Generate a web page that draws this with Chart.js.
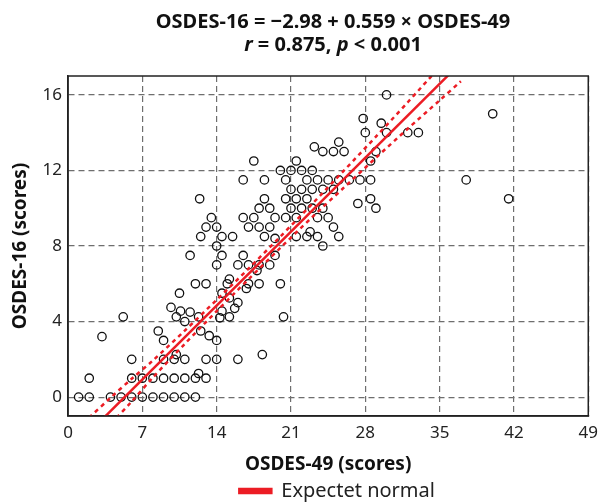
<!DOCTYPE html>
<html>
<head>
<meta charset="utf-8">
<script src="https://cdn.jsdelivr.net/npm/chart.js@4.4.1/dist/chart.umd.min.js"></script>
<style>
  html, body { margin: 0; padding: 0; background: #fff; }
  #wrap { position: relative; width: 605px; height: 502px; }
  #title {
    position: absolute; left: 68px; width: 530px; top: 9px;
    text-align: center; font-family: "Noto Sans", sans-serif; font-weight: bold;
    font-size: 20px; line-height: 23px; color: #111;
  }
  canvas { position: absolute; left: 0; top: 0; }
</style>
</head>
<body>
<div id="wrap">
  <canvas id="chart" width="605" height="502"></canvas>
  <div id="title">OSDES-16 = −2.98 + 0.559 × OSDES-49<br><i>r</i> = 0.875, <i>p</i> &lt; 0.001</div>
</div>
<script>
// scatter: OSDES-49 (x) vs OSDES-16 (y)
const osdes49 = [
  1, 2, 4, 5, 6, 7, 8, 9, 10, 11, 12,
  2, 6, 7, 8, 9, 10, 11, 12, 13, 12.3,
  6, 9, 10, 11, 13, 14, 16, 10.2, 18.3,
  9, 14, 3.2, 13.3, 8.5, 12.5,
  11, 5.2, 10.2, 12.3, 14.3, 15.2, 20.3,
  9.7, 10.6, 11.5, 14.5, 15.7,
  16, 15.2, 10.5, 14.5, 16.8,
  12, 13, 15, 17, 18, 20, 15.2,
  17.8, 14, 16, 17, 18, 19,
  11.5, 14.5, 16.5, 19.5,
  14, 24,
  12.5, 14.5, 15.5, 18.5, 19.5, 21.5, 22.5, 23.5, 25.5, 22.8,
  13, 14, 17, 18, 19, 25,
  13.5, 16.5, 17.5, 19.5, 20.5, 21.5, 23.5, 24.5,
  18, 19, 21, 22, 23, 24, 29, 27.3,
  12.4, 18.5, 20.5, 21.5, 22.5, 28.5, 41.5,
  21, 22, 23, 24, 25,
  16.5, 18.5, 20.5, 22.5, 23.5, 24.5, 25.5, 26.5, 27.5, 28.5, 37.5,
  20, 21, 22, 23,
  17.5, 21.5, 28.5,
  24, 25, 26, 29, 23.2, 25.5,
  28, 30, 32, 33, 29.5, 27.8,
  40, 30
];
const osdes16 = [
  0, 0, 0, 0, 0, 0, 0, 0, 0, 0, 0,
  1, 1, 1, 1, 1, 1, 1, 1, 1, 1.25,
  2, 2, 2, 2, 2, 2, 2, 2.25, 2.25,
  3, 3, 3.2, 3.25, 3.5, 3.5,
  4, 4.25, 4.25, 4.25, 4.2, 4.25, 4.25,
  4.75, 4.55, 4.5, 4.55, 4.7,
  5, 5.25, 5.5, 5.5, 5.75,
  6, 6, 6, 6, 6, 6, 6.25,
  6.7, 7, 7, 7, 7, 7,
  7.5, 7.5, 7.5, 7.5,
  8, 8,
  8.5, 8.5, 8.5, 8.5, 8.4, 8.5, 8.5, 8.5, 8.5, 8.75,
  9, 9, 9, 9, 9, 9,
  9.5, 9.5, 9.5, 9.5, 9.5, 9.5, 9.5, 9.5,
  10, 10, 10, 10, 10, 10, 10, 10.25,
  10.5, 10.5, 10.5, 10.5, 10.5, 10.5, 10.5,
  11, 11, 11, 11, 11,
  11.5, 11.5, 11.5, 11.5, 11.5, 11.5, 11.5, 11.5, 11.5, 11.5, 11.5,
  12, 12, 12, 12,
  12.5, 12.5, 12.5,
  13, 13, 13, 13, 13.25, 13.5,
  14, 14, 14, 14, 14.5, 14.75,
  15, 16
];

// regression line end points (OSDES-16 = -2.98 + 0.559 x OSDES-49)
const fitX = [2, 37];
const fitY = [-1.862, 17.703];

// dashed confidence band
const bandX = [2, 4, 6, 8, 11, 14, 17, 20, 23, 26, 29, 32, 35, 37];
const bandUpper = [-1.08, -0.04, 0.97, 1.94, 3.52, 5.15, 6.80, 8.50, 10.23, 12.00, 13.79, 15.61, 17.47, 18.68];
const bandLower = [-2.64, -1.44, -0.23, 1.04, 2.82, 4.55, 6.24, 7.90, 9.53, 11.10, 12.67, 14.21, 15.71, 16.72];

const xTicks = [0, 7, 14, 21, 28, 35, 42, 49];
const yTicks = [0, 4, 8, 12, 16];

const toPoints = (xs, ys) => xs.map((x, i) => ({ x: x, y: ys[i] }));

const red = '#ec1c24';
const fontFamily = '"Noto Sans", sans-serif';

// box around the plot area, legend centred under the plot area
const frame = {
  id: 'frame',
  afterLayout(chart) {
    if (chart.legend) {
      chart.legend.left = chart.chartArea.left + 18;
      chart.legend.right = chart.chartArea.right;
    }
  },
  afterDatasetsDraw(chart) {
    const a = chart.chartArea;
    const ctx = chart.ctx;
    ctx.save();
    ctx.strokeStyle = '#222';
    ctx.lineWidth = 1.5;
    ctx.strokeRect(a.left, a.top, a.right - a.left, a.bottom - a.top);
    ctx.restore();
  }
};

const data = {
  datasets: [
    {
      label: 'Expectet normal',
      type: 'line',
      data: toPoints(fitX, fitY),
      borderColor: red,
      backgroundColor: red,
      borderWidth: 2.5,
      pointRadius: 0,
      clip: 0,
      order: 1
    },
    {
      label: 'upper',
      type: 'line',
      data: toPoints(bandX, bandUpper),
      borderColor: red,
      borderWidth: 2.5,
      borderDash: [4, 4],
      pointRadius: 0,
      tension: 0.3,
      clip: 0,
      order: 1
    },
    {
      label: 'lower',
      type: 'line',
      data: toPoints(bandX, bandLower),
      borderColor: red,
      borderWidth: 2.5,
      borderDash: [4, 4],
      pointRadius: 0,
      tension: 0.3,
      clip: 0,
      order: 1
    },
    {
      label: 'patients',
      data: toPoints(osdes49, osdes16),
      borderColor: '#111',
      backgroundColor: 'rgba(0,0,0,0)',
      borderWidth: 1.3,
      pointRadius: 4.2,
      order: 2
    }
  ]
};

const config = {
  type: 'scatter',
  data: data,
  plugins: [frame],
  options: {
    responsive: false,
    animation: false,
    layout: { padding: { top: 76, right: 7, left: 0, bottom: -9 } },
    plugins: {
      legend: {
        position: 'bottom',
        labels: {
          filter: item => item.datasetIndex === 0,
          boxWidth: 32,
          boxHeight: 4,
          color: '#222',
          padding: 4,
          font: { family: fontFamily, size: 20 }
        }
      },
      tooltip: { enabled: false }
    },
    scales: {
      x: {
        type: 'linear',
        min: 0,
        max: 49,
        afterBuildTicks: scale => { scale.ticks = xTicks.map(v => ({ value: v })); },
        afterFit: scale => { scale.height = 61; },
        grid: { color: '#6e6e6e', lineWidth: 1.2, drawTicks: false },
        border: { display: true, color: '#222', width: 1.5, dash: [6, 4] },
        ticks: { color: '#222', padding: 7, maxRotation: 0, font: { family: fontFamily, size: 17 } },
        title: {
          display: true,
          text: 'OSDES-49 (scores)',
          color: '#111',
          padding: { top: 4, bottom: 1 },
          font: { family: fontFamily, size: 19, weight: 'bold' }
        }
      },
      y: {
        type: 'linear',
        min: -1,
        max: 17,
        afterBuildTicks: scale => { scale.ticks = yTicks.map(v => ({ value: v })); },
        afterFit: scale => { scale.width = 68; },
        grid: { color: '#6e6e6e', lineWidth: 1.2, drawTicks: false },
        border: { display: true, color: '#222', width: 1.5, dash: [6, 4] },
        ticks: { color: '#222', padding: 6, font: { family: fontFamily, size: 17 } },
        title: {
          display: true,
          text: 'OSDES-16 (scores)',
          color: '#111',
          padding: { top: 9, bottom: 0 },
          font: { family: fontFamily, size: 19, weight: 'bold' }
        }
      }
    }
  }
};

new Chart(document.getElementById('chart').getContext('2d'), config);
</script>
</body>
</html>
